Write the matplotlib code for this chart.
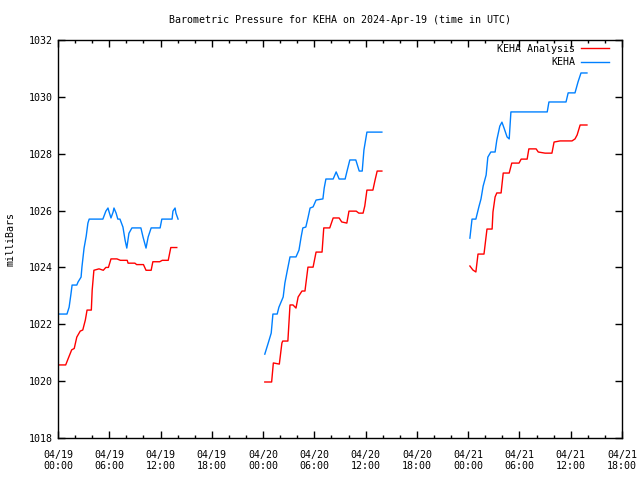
import numpy as np
import matplotlib
matplotlib.use('Agg')
import matplotlib.pyplot as plt

# 時刻は 04/19 00:00 UTC からの経過時間 (h)
# KEHA Analysis (赤)
ana1_t = [0.2, 0.9, 1.2, 1.6, 1.9, 2.2, 2.6, 2.9, 3.2, 3.4, 3.9, 4.0, 4.2, 4.8, 5.3, 5.6, 5.9, 6.2, 6.9, 7.3, 8.1, 8.2, 9.0, 9.2, 10.0, 10.3, 10.9, 11.1, 11.9, 12.2, 12.9, 13.2, 13.9]
ana1_p = [1020.57, 1020.57, 1020.8, 1021.1, 1021.15, 1021.55, 1021.76, 1021.8, 1022.15, 1022.5, 1022.5, 1023.2, 1023.9, 1023.95, 1023.9, 1024.0, 1024.0, 1024.3, 1024.3, 1024.25, 1024.25, 1024.15, 1024.15, 1024.1, 1024.1, 1023.9, 1023.9, 1024.2, 1024.2, 1024.25, 1024.25, 1024.7, 1024.7]
ana2_t = [24.2, 25.0, 25.2, 25.9, 26.2, 26.3, 26.9, 27.15, 27.5, 27.85, 28.1, 28.55, 28.9, 29.25, 29.85, 30.2, 30.9, 31.1, 31.8, 32.2, 32.9, 33.2, 33.8, 34.05, 34.9, 35.2, 35.7, 35.9, 36.15, 36.85, 37.1, 37.35, 37.9]
ana2_p = [1019.97, 1019.97, 1020.64, 1020.6, 1021.34, 1021.41, 1021.41, 1022.68, 1022.68, 1022.57, 1022.96, 1023.17, 1023.17, 1024.01, 1024.01, 1024.54, 1024.54, 1025.39, 1025.39, 1025.74, 1025.74, 1025.6, 1025.56, 1025.98, 1025.98, 1025.91, 1025.91, 1026.16, 1026.72, 1026.72, 1027.07, 1027.39, 1027.39]
ana3_t = [48.2, 48.55, 48.9, 49.15, 49.85, 50.2, 50.8, 50.9, 51.15, 51.35, 51.85, 52.1, 52.8, 53.1, 53.95, 54.2, 54.9, 55.1, 55.95, 56.2, 57.0, 57.8, 58.05, 58.75, 60.15, 60.5, 60.75, 61.1, 61.9]
ana3_p = [1024.05, 1023.91, 1023.84, 1024.47, 1024.47, 1025.35, 1025.35, 1025.95, 1026.48, 1026.62, 1026.62, 1027.32, 1027.32, 1027.67, 1027.67, 1027.81, 1027.81, 1028.17, 1028.17, 1028.06, 1028.02, 1028.02, 1028.41, 1028.45, 1028.45, 1028.52, 1028.66, 1029.01, 1029.01]

# KEHA (青)
obs1_t = [0.2, 1.05, 1.3, 1.5, 1.65, 2.2, 2.35, 2.7, 2.8, 3.05, 3.3, 3.5, 3.65, 5.25, 5.6, 5.85, 5.95, 6.2, 6.45, 6.55, 6.8, 7.0, 7.25, 7.6, 7.85, 8.05, 8.3, 8.65, 9.7, 9.95, 10.3, 10.55, 10.9, 11.95, 12.15, 13.35, 13.45, 13.7, 13.8, 14.05]
obs1_p = [1022.36, 1022.36, 1022.6, 1023.03, 1023.38, 1023.38, 1023.49, 1023.66, 1024.01, 1024.68, 1025.1, 1025.56, 1025.7, 1025.7, 1025.98, 1026.09, 1025.98, 1025.74, 1025.95, 1026.09, 1025.91, 1025.7, 1025.7, 1025.42, 1024.96, 1024.68, 1025.2, 1025.39, 1025.39, 1025.07, 1024.68, 1025.07, 1025.39, 1025.39, 1025.7, 1025.7, 1025.98, 1026.09, 1025.91, 1025.7]
obs2_t = [24.2, 24.6, 24.95, 25.15, 25.65, 25.85, 26.35, 26.55, 26.8, 27.15, 27.85, 28.2, 28.45, 28.65, 29.0, 29.25, 29.5, 29.85, 30.2, 31.0, 31.15, 31.35, 32.2, 32.55, 32.9, 33.6, 33.8, 34.15, 34.85, 35.25, 35.6, 35.8, 36.15, 37.9]
obs2_p = [1020.95, 1021.34, 1021.69, 1022.36, 1022.36, 1022.6, 1022.96, 1023.45, 1023.84, 1024.37, 1024.37, 1024.61, 1025.07, 1025.39, 1025.42, 1025.74, 1026.09, 1026.13, 1026.37, 1026.41, 1026.79, 1027.11, 1027.11, 1027.36, 1027.11, 1027.11, 1027.36, 1027.78, 1027.78, 1027.39, 1027.39, 1028.13, 1028.76, 1028.76]
obs3_t = [48.2, 48.45, 48.9, 49.25, 49.5, 49.75, 50.1, 50.3, 50.65, 51.15, 51.35, 51.7, 51.95, 52.2, 52.55, 52.8, 53.0, 57.25, 57.45, 59.45, 59.7, 60.5, 60.85, 61.2, 61.9]
obs3_p = [1025.03, 1025.7, 1025.7, 1026.13, 1026.41, 1026.86, 1027.25, 1027.88, 1028.06, 1028.06, 1028.48, 1028.97, 1029.11, 1028.9, 1028.59, 1028.52, 1029.47, 1029.47, 1029.82, 1029.82, 1030.14, 1030.14, 1030.52, 1030.84, 1030.84]

tick_hours = [0, 6, 12, 18, 24, 30, 36, 42, 48, 54, 60, 66]
tick_labels = ["04/19\n00:00", "04/19\n06:00", "04/19\n12:00", "04/19\n18:00",
               "04/20\n00:00", "04/20\n06:00", "04/20\n12:00", "04/20\n18:00",
               "04/21\n00:00", "04/21\n06:00", "04/21\n12:00", "04/21\n18:00"]

def join_segments(*segs):
    # 欠測区間は NaN で区切る
    t, p = [], []
    for st, sp in segs:
        t += list(st) + [np.nan]
        p += list(sp) + [np.nan]
    return np.array(t), np.array(p)

ana_t, ana_p = join_segments((ana1_t, ana1_p), (ana2_t, ana2_p), (ana3_t, ana3_p))
obs_t, obs_p = join_segments((obs1_t, obs1_p), (obs2_t, obs2_p), (obs3_t, obs3_p))

plt.rcParams['font.family'] = ['DejaVu Sans Mono']
plt.rcParams['font.size'] = 7.2

fig = plt.figure(figsize=(6.4, 4.8), dpi=100)
ax = fig.add_axes([58/640, 42/480, 564/640, 398/480])

ax.plot(ana_t, ana_p, color="#ff0000", lw=1.0, label="KEHA Analysis")
ax.plot(obs_t, obs_p, color="#0080ff", lw=1.0, label="KEHA")

ax.set_xlim(0, 66)
ax.set_ylim(1018, 1032)
ax.set_xticks(tick_hours)
ax.set_xticklabels(tick_labels, linespacing=1.1)
ax.set_xticks(np.arange(0, 67, 2), minor=True)
ax.set_yticks(np.arange(1018, 1033, 2))
ax.tick_params(which='both', direction='in', top=True, right=True, width=1.0)
ax.tick_params(which='major', length=5)
ax.tick_params(axis='x', which='major', pad=8.5)
ax.tick_params(axis='y', which='major', pad=4)
ax.tick_params(which='minor', length=2.5)
for s in ax.spines.values():
    s.set_linewidth(1.0)

ax.set_title("Barometric Pressure for KEHA on 2024-Apr-19 (time in UTC)",
             fontsize=7.2, pad=12)
ax.set_ylabel("milliBars", labelpad=9)

ax.legend(loc="upper right", bbox_to_anchor=(0.984, 1.0), borderaxespad=0,
          frameon=False, markerfirst=False, handlelength=2.8,
          labelspacing=0.35, handletextpad=0.6)

fig.savefig("out.png")
